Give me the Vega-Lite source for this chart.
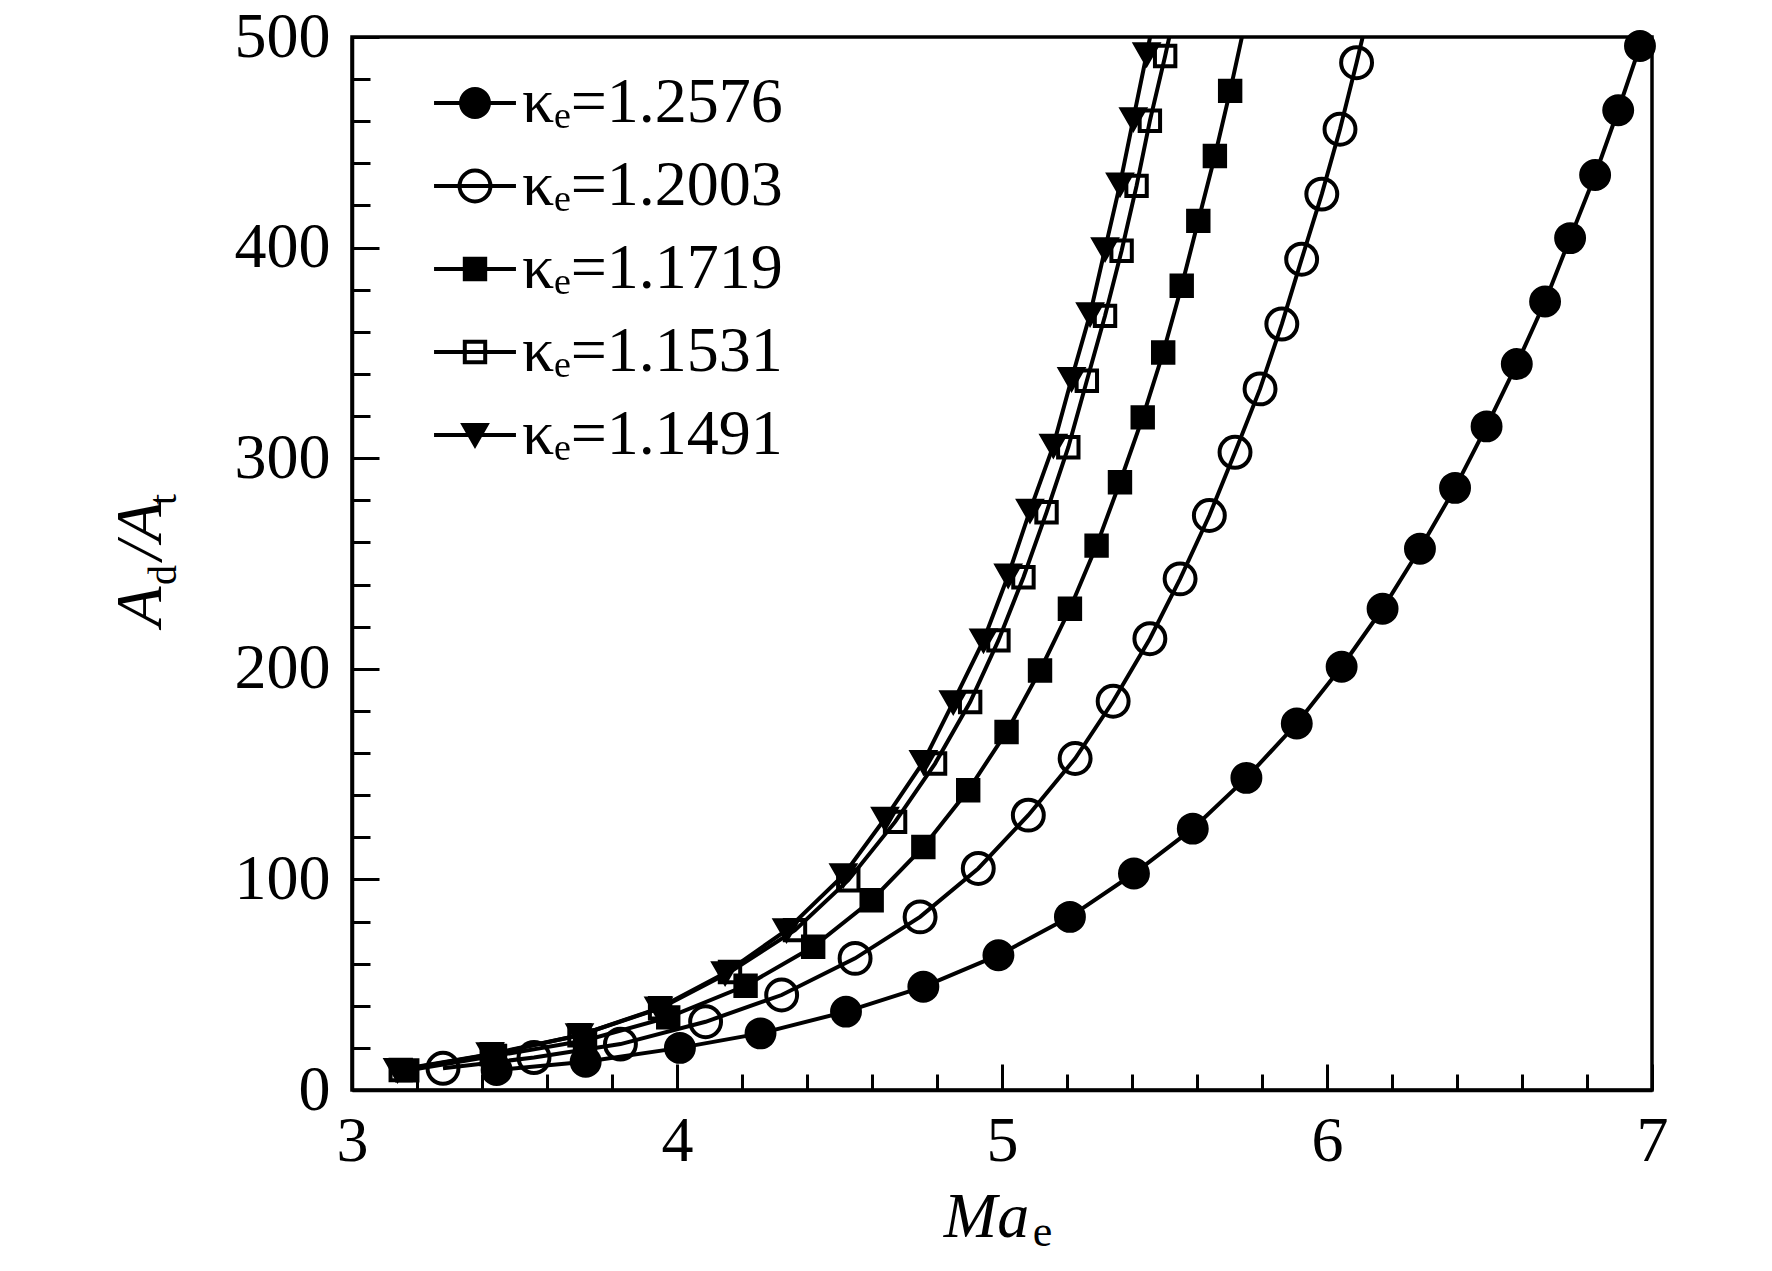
{
  "$schema": "https://vega.github.io/schema/vega-lite/v6.json",
  "description": "Area ratio Ad/At against exit Mach number for five values of kappa_e",
  "width": 1300,
  "height": 1053,
  "autosize": {"type": "none"},
  "padding": {"left": 352, "top": 37, "right": 120, "bottom": 181},
  "background": "white",
  "config": {
    "view": {"stroke": "black", "strokeWidth": 3.5},
    "axis": {
      "grid": false,
      "domainColor": "black",
      "domainWidth": 3.5,
      "tickColor": "black",
      "tickWidth": 3,
      "labelFont": "Liberation Serif",
      "labelFontSize": 64,
      "labelColor": "black",
      "labelFlush": false,
      "titleFont": "Liberation Serif",
      "titleColor": "black",
      "titleFontWeight": "normal"
    },
    "legend": {
      "symbolSize": 900,
      "symbolStrokeColor": "black",
      "symbolStrokeWidth": 4,
      "labelFont": "Liberation Serif",
      "labelFontSize": 64,
      "labelColor": "black",
      "labelLimit": 0
    }
  },
  "data": {
    "values": [
      {"s": "1.2576", "M": 3.445, "A": 9.5},
      {"s": "1.2576", "M": 3.719, "A": 13.4},
      {"s": "1.2576", "M": 4.009, "A": 20.0},
      {"s": "1.2576", "M": 4.257, "A": 26.9},
      {"s": "1.2576", "M": 4.52, "A": 37.2},
      {"s": "1.2576", "M": 4.758, "A": 49.0},
      {"s": "1.2576", "M": 4.989, "A": 64.0},
      {"s": "1.2576", "M": 5.209, "A": 82.2},
      {"s": "1.2576", "M": 5.406, "A": 102.8},
      {"s": "1.2576", "M": 5.587, "A": 124.1},
      {"s": "1.2576", "M": 5.752, "A": 148.2},
      {"s": "1.2576", "M": 5.907, "A": 174.0},
      {"s": "1.2576", "M": 6.045, "A": 201.0},
      {"s": "1.2576", "M": 6.171, "A": 228.5},
      {"s": "1.2576", "M": 6.286, "A": 257.0},
      {"s": "1.2576", "M": 6.394, "A": 285.9},
      {"s": "1.2576", "M": 6.491, "A": 315.1},
      {"s": "1.2576", "M": 6.584, "A": 344.7},
      {"s": "1.2576", "M": 6.671, "A": 374.4},
      {"s": "1.2576", "M": 6.748, "A": 404.5},
      {"s": "1.2576", "M": 6.825, "A": 434.5},
      {"s": "1.2576", "M": 6.896, "A": 465.2},
      {"s": "1.2576", "M": 6.963, "A": 495.7},
      {"s": "1.2003", "M": 3.28, "A": 10.3},
      {"s": "1.2003", "M": 3.56, "A": 15.4},
      {"s": "1.2003", "M": 3.826, "A": 21.8},
      {"s": "1.2003", "M": 4.088, "A": 32.4},
      {"s": "1.2003", "M": 4.322, "A": 45.1},
      {"s": "1.2003", "M": 4.548, "A": 62.5},
      {"s": "1.2003", "M": 4.748, "A": 82.2},
      {"s": "1.2003", "M": 4.927, "A": 105.2},
      {"s": "1.2003", "M": 5.081, "A": 130.5},
      {"s": "1.2003", "M": 5.225, "A": 157.4},
      {"s": "1.2003", "M": 5.342, "A": 184.6},
      {"s": "1.2003", "M": 5.455, "A": 214.3},
      {"s": "1.2003", "M": 5.548, "A": 242.7},
      {"s": "1.2003", "M": 5.638, "A": 272.8},
      {"s": "1.2003", "M": 5.717, "A": 302.8},
      {"s": "1.2003", "M": 5.794, "A": 332.9},
      {"s": "1.2003", "M": 5.861, "A": 363.7},
      {"s": "1.2003", "M": 5.922, "A": 394.5},
      {"s": "1.2003", "M": 5.984, "A": 425.4},
      {"s": "1.2003", "M": 6.04, "A": 456.2},
      {"s": "1.2003", "M": 6.091, "A": 487.8},
      {"s": "1.2003", "M": 6.139, "A": 519.0},
      {"s": "1.1719", "M": 3.17, "A": 9.3},
      {"s": "1.1719", "M": 3.44, "A": 16.2},
      {"s": "1.1719", "M": 3.717, "A": 23.5},
      {"s": "1.1719", "M": 3.973, "A": 34.5},
      {"s": "1.1719", "M": 4.211, "A": 49.5},
      {"s": "1.1719", "M": 4.419, "A": 68.0},
      {"s": "1.1719", "M": 4.599, "A": 90.1},
      {"s": "1.1719", "M": 4.758, "A": 115.4},
      {"s": "1.1719", "M": 4.896, "A": 142.3},
      {"s": "1.1719", "M": 5.014, "A": 170.0},
      {"s": "1.1719", "M": 5.117, "A": 199.2},
      {"s": "1.1719", "M": 5.209, "A": 228.5},
      {"s": "1.1719", "M": 5.291, "A": 258.5},
      {"s": "1.1719", "M": 5.363, "A": 288.6},
      {"s": "1.1719", "M": 5.433, "A": 319.4},
      {"s": "1.1719", "M": 5.496, "A": 350.2},
      {"s": "1.1719", "M": 5.553, "A": 381.9},
      {"s": "1.1719", "M": 5.604, "A": 412.7},
      {"s": "1.1719", "M": 5.655, "A": 443.5},
      {"s": "1.1719", "M": 5.702, "A": 474.4},
      {"s": "1.1719", "M": 5.746, "A": 505.5},
      {"s": "1.1531", "M": 3.15, "A": 9.5},
      {"s": "1.1531", "M": 3.43, "A": 17.0},
      {"s": "1.1531", "M": 3.70, "A": 26.0},
      {"s": "1.1531", "M": 3.948, "A": 38.8},
      {"s": "1.1531", "M": 4.163, "A": 56.0},
      {"s": "1.1531", "M": 4.363, "A": 75.9},
      {"s": "1.1531", "M": 4.527, "A": 99.6},
      {"s": "1.1531", "M": 4.671, "A": 127.3},
      {"s": "1.1531", "M": 4.794, "A": 155.0},
      {"s": "1.1531", "M": 4.902, "A": 184.2},
      {"s": "1.1531", "M": 4.989, "A": 213.5},
      {"s": "1.1531", "M": 5.066, "A": 243.5},
      {"s": "1.1531", "M": 5.137, "A": 274.3},
      {"s": "1.1531", "M": 5.204, "A": 305.2},
      {"s": "1.1531", "M": 5.261, "A": 336.8},
      {"s": "1.1531", "M": 5.317, "A": 367.6},
      {"s": "1.1531", "M": 5.368, "A": 398.5},
      {"s": "1.1531", "M": 5.414, "A": 429.3},
      {"s": "1.1531", "M": 5.455, "A": 460.2},
      {"s": "1.1531", "M": 5.502, "A": 491.0},
      {"s": "1.1531", "M": 5.546, "A": 522.0},
      {"s": "1.1491", "M": 3.14, "A": 9.5},
      {"s": "1.1491", "M": 3.425, "A": 17.0},
      {"s": "1.1491", "M": 3.70, "A": 26.0},
      {"s": "1.1491", "M": 3.943, "A": 38.8},
      {"s": "1.1491", "M": 4.148, "A": 55.5},
      {"s": "1.1491", "M": 4.337, "A": 75.9},
      {"s": "1.1491", "M": 4.512, "A": 102.0},
      {"s": "1.1491", "M": 4.64, "A": 128.9},
      {"s": "1.1491", "M": 4.758, "A": 155.8},
      {"s": "1.1491", "M": 4.85, "A": 184.2},
      {"s": "1.1491", "M": 4.943, "A": 213.5},
      {"s": "1.1491", "M": 5.019, "A": 244.3},
      {"s": "1.1491", "M": 5.086, "A": 275.1},
      {"s": "1.1491", "M": 5.158, "A": 306.0},
      {"s": "1.1491", "M": 5.214, "A": 337.6},
      {"s": "1.1491", "M": 5.271, "A": 368.4},
      {"s": "1.1491", "M": 5.317, "A": 399.3},
      {"s": "1.1491", "M": 5.363, "A": 430.0},
      {"s": "1.1491", "M": 5.404, "A": 461.0},
      {"s": "1.1491", "M": 5.445, "A": 491.8},
      {"s": "1.1491", "M": 5.485, "A": 522.5}
    ]
  },
  "layer": [
    {
      "mark": {"type": "line", "clip": true, "color": "black", "strokeWidth": 4},
      "encoding": {
        "x": {
          "field": "M",
          "type": "quantitative",
          "scale": {"domain": [3, 7], "nice": false, "zero": false},
          "axis": {
            "orient": "bottom",
            "values": [3, 4, 5, 6, 7],
            "tickSize": -26,
            "labelPadding": 45,
            "title": "Ma",
            "titleFontSize": 64,
            "titleFontStyle": "italic",
            "titleX": 634,
            "titlePadding": 12
          }
        },
        "y": {
          "field": "A",
          "type": "quantitative",
          "scale": {"domain": [0, 500], "nice": false},
          "axis": {
            "orient": "left",
            "values": [0, 100, 200, 300, 400, 500],
            "tickSize": -27,
            "labelPadding": 49,
            "title": "A\u2009\u2009/A",
            "titleFontSize": 66,
            "titleFontStyle": "italic",
            "titlePadding": 60
          }
        },
        "detail": {"field": "s", "type": "nominal"}
      }
    },
    {
      "transform": [{"filter": "datum.A <= 500"}],
      "mark": {"type": "point", "opacity": 1, "stroke": "black", "strokeWidth": 4, "size": 900},
      "encoding": {
        "x": {
          "field": "M",
          "type": "quantitative",
          "axis": {
            "orient": "bottom",
            "values": [3.2, 3.4, 3.6, 3.8, 4.2, 4.4, 4.6, 4.8, 5.2, 5.4, 5.6, 5.8, 6.2, 6.4, 6.6, 6.8],
            "tickSize": -16,
            "labels": false,
            "domain": false,
            "title": "e",
            "titleFontSize": 44,
            "titleX": 690,
            "titlePadding": 119
          }
        },
        "y": {
          "field": "A",
          "type": "quantitative",
          "axis": {
            "orient": "left",
            "values": [20, 40, 60, 80, 120, 140, 160, 180, 220, 240, 260, 280, 320, 340, 360, 380, 420, 440, 460, 480],
            "tickSize": -18,
            "labels": false,
            "domain": false,
            "title": "d\u2003\u2002t",
            "titleFontSize": 40,
            "titleY": 502,
            "titlePadding": 167
          }
        },
        "shape": {
          "field": "s",
          "type": "nominal",
          "scale": {
            "domain": ["1.1491", "1.1531", "1.1719", "1.2003", "1.2576"],
            "range": [
              "M0,0.66L-0.76,-0.66L0.76,-0.66Z",
              "M-0.68,-0.68H0.68V0.68H-0.68Z",
              "M-0.68,-0.68H0.68V0.68H-0.68Z",
              "M-1.03,0A1.03,1.03,0,1,1,1.03,0A1.03,1.03,0,1,1,-1.03,0Z",
              "M-0.93,0A0.93,0.93,0,1,1,0.93,0A0.93,0.93,0,1,1,-0.93,0Z"
            ]
          },
          "legend": null
        },
        "fill": {
          "field": "s",
          "type": "nominal",
          "scale": {
            "domain": ["1.2576", "1.2003", "1.1719", "1.1531", "1.1491"],
            "range": ["black", "transparent", "black", "transparent", "black"]
          },
          "legend": {
            "title": null,
            "orient": "none",
            "legendX": 91,
            "legendY": 34,
            "padding": 0,
            "labelOffset": 15,
            "rowPadding": 19,
            "labelExpr": "'κₑ=' + datum.label",
            "symbolType": {"expr": "datum.value === '1.2576' ? 'M-2.73,0H2.73M-0.93,0A0.93,0.93,0,1,1,0.93,0A0.93,0.93,0,1,1,-0.93,0Z' : datum.value === '1.2003' ? 'M-2.73,0H2.73M-1.03,0A1.03,1.03,0,1,1,1.03,0A1.03,1.03,0,1,1,-1.03,0Z' : datum.value === '1.1491' ? 'M-2.73,0H2.73M0,0.66L-0.76,-0.66L0.76,-0.66Z' : 'M-2.73,0H2.73M-0.68,-0.68H0.68V0.68H-0.68Z'"},
            "encode": {
              "symbols": {
                "stroke": {"value": "black"},
                "strokeWidth": {"value": 4}
              }
            }
          }
        }
      }
    }
  ],
  "resolve": {"axis": {"x": "independent", "y": "independent"}}
}
